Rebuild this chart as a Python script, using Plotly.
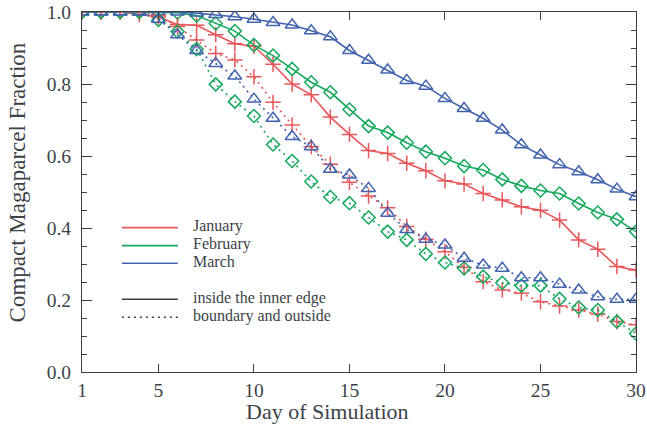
import plotly.graph_objects as go

days = list(range(1, 31))

jan_inside = [1.0, 1.0, 1.0, 0.993, 0.986, 0.965, 0.963, 0.937, 0.912, 0.905,
              0.855, 0.80, 0.77, 0.708, 0.66, 0.615, 0.607, 0.58, 0.559, 0.531,
              0.522, 0.496, 0.478, 0.459, 0.449, 0.422, 0.367, 0.341, 0.293, 0.283]
feb_inside = [1.0, 1.0, 1.0, 1.0, 1.0, 0.998, 0.99, 0.968, 0.947, 0.908,
              0.879, 0.842, 0.805, 0.777, 0.729, 0.683, 0.665, 0.637, 0.612, 0.594,
              0.572, 0.561, 0.535, 0.517, 0.504, 0.496, 0.468, 0.443, 0.424, 0.39]
mar_inside = [1.0, 1.0, 1.0, 1.0, 1.0, 1.0, 0.997, 0.993, 0.987, 0.98,
              0.971, 0.964, 0.948, 0.931, 0.893, 0.866, 0.839, 0.81, 0.794, 0.76,
              0.732, 0.705, 0.672, 0.631, 0.603, 0.576, 0.556, 0.534, 0.508, 0.487]

jan_boundary = [1.0, 1.0, 1.0, 1.0, 0.99, 0.96, 0.922, 0.885, 0.867, 0.82,
                0.749, 0.686, 0.626, 0.577, 0.527, 0.489, 0.456, 0.404, 0.369, 0.334,
                0.291, 0.251, 0.228, 0.219, 0.195, 0.183, 0.172, 0.161, 0.14, 0.131]
feb_boundary = [1.0, 1.0, 1.0, 1.0, 0.978, 0.946, 0.897, 0.799, 0.751, 0.711,
                0.632, 0.586, 0.529, 0.486, 0.469, 0.429, 0.39, 0.367, 0.328, 0.304,
                0.288, 0.265, 0.248, 0.24, 0.24, 0.203, 0.179, 0.172, 0.14, 0.107]
mar_boundary = [1.0, 1.0, 1.0, 1.0, 0.98, 0.937, 0.893, 0.857, 0.822, 0.758,
                0.705, 0.654, 0.626, 0.563, 0.547, 0.51, 0.441, 0.396, 0.369, 0.353,
                0.316, 0.297, 0.288, 0.262, 0.262, 0.244, 0.228, 0.209, 0.202, 0.202]

month_names = ["January", "February", "March"]
region_names = ["inside the inner edge", "boundary and outside"]
x_title = "Day of Simulation"
y_title = "Compact Magaparcel Fraction"
x_ticks = [1, 5, 10, 15, 20, 25, 30]
y_ticks = [0.0, 0.2, 0.4, 0.6, 0.8, 1.0]
y_ticklabels = ["0.0", "0.2", "0.4", "0.6", "0.8", "1.0"]

RED = "#E8575A"
GREEN = "#14A85E"
BLUE = "#4263AE"
DARK = "#3A3F44"
TEXT = "#3C4248"
FONT = "Liberation Serif"
DOT = "2px,4px"

series = [
    (jan_inside, RED, "cross-thin-open", 11, "solid"),
    (feb_inside, GREEN, "diamond-open", 10, "solid"),
    (mar_inside, BLUE, "triangle-up-open", 12, "solid"),
    (jan_boundary, RED, "cross-thin-open", 11, DOT),
    (feb_boundary, GREEN, "diamond-open", 10, DOT),
    (mar_boundary, BLUE, "triangle-up-open", 12, DOT),
]

fig = go.Figure()
for vals, col, sym, sz, dash in series:
    fig.add_trace(go.Scatter(
        x=days, y=vals, mode="lines+markers", showlegend=False,
        line=dict(color=col, width=1.6, dash=dash),
        marker=dict(symbol=sym, size=sz, color=col, line=dict(color=col, width=1.5)),
    ))

# hand-built legend (paper coordinates inside the plot area)
legend_rows = [(month_names[0], RED, "solid", 0.401),
               (month_names[1], GREEN, "solid", 0.351),
               (month_names[2], BLUE, "solid", 0.302),
               (region_names[0], DARK, "solid", 0.202),
               (region_names[1], DARK, DOT, 0.152)]
for label, col, dash, yy in legend_rows:
    fig.add_shape(type="line", xref="paper", yref="paper",
                  x0=0.072, x1=0.173, y0=yy, y1=yy,
                  line=dict(color=col, width=1.6, dash=dash))
    fig.add_annotation(xref="paper", yref="paper", x=0.198, y=yy + 0.004,
                       text=label, showarrow=False, xanchor="left", yanchor="middle",
                       borderpad=0,
                       font=dict(family=FONT, size=16, color=TEXT))

# axis titles (placed as in the reference, slightly off-centre)
fig.add_annotation(xref="paper", yref="paper", x=0.444, y=-0.109, text=x_title,
                   showarrow=False, xanchor="center", yanchor="middle", borderpad=0,
                   font=dict(family=FONT, size=22, color=TEXT))
fig.add_annotation(xref="paper", yref="paper", x=-0.117, y=0.527, text=y_title,
                   textangle=-90, showarrow=False, xanchor="center", yanchor="middle",
                   borderpad=0, font=dict(family=FONT, size=23, color=TEXT))

axis_common = dict(
    showline=True, linecolor=DARK, linewidth=1.2, mirror="ticks",
    ticks="inside", tickcolor=DARK, showgrid=False, zeroline=False,
    tickfont=dict(family=FONT, size=19.5, color=TEXT), automargin=False,
)

fig.update_xaxes(range=[1, 30], tickvals=x_ticks, ticklen=8, tickwidth=1.2,
                 ticklabelstandoff=0, **axis_common)
fig.update_yaxes(range=[0, 1.0], tickvals=y_ticks, ticktext=y_ticklabels, ticklen=10, tickwidth=1.2,
                 ticklabelstandoff=6,
                 minor=dict(dtick=0.05, ticklen=5, tickcolor=DARK, tickwidth=1.2, ticks="inside"),
                 **axis_common)

fig.update_layout(
    width=647, height=425,
    margin=dict(l=82, r=11, t=12, b=53),
    paper_bgcolor="white", plot_bgcolor="white",
    font=dict(family=FONT, color=TEXT),
    showlegend=False,
)

fig.write_html("out.html")
